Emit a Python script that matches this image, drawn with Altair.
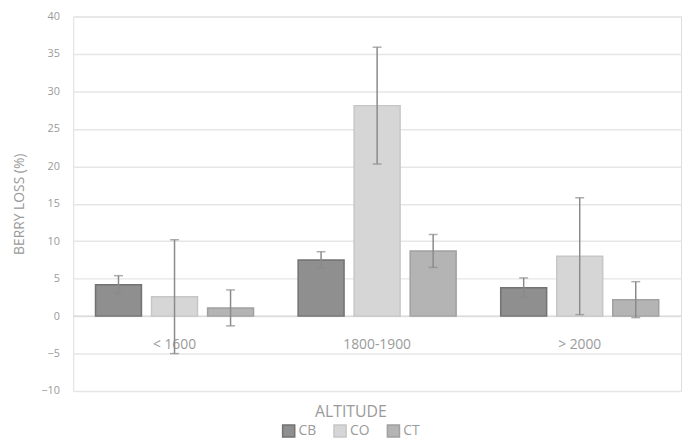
import altair as alt
import pandas as pd

altitudes = ["< 1600", "1800-1900", "> 2000"]
treatments = ["CB", "CO", "CT"]
# values per altitude, per treatment
cb_mean = [4.2, 7.5, 3.8]
co_mean = [2.6, 28.1, 8.0]
ct_mean = [1.1, 8.7, 2.2]
cb_err = [1.2, 1.1, 1.3]
co_err = [7.6, 7.8, 7.8]
ct_err = [2.4, 2.2, 2.4]
y_ticks = [-10, -5, 0, 5, 10, 15, 20, 25, 30, 35, 40]

rows = []
for i, a in enumerate(altitudes):
    for t, m, e in (("CB", cb_mean, cb_err), ("CO", co_mean, co_err), ("CT", ct_mean, ct_err)):
        rows.append({"alt": a, "trt": t, "val": m[i], "lo": m[i] - e[i], "hi": m[i] + e[i]})
df = pd.DataFrame(rows)

fills = ["#8f8f8f", "#d6d6d6", "#b4b4b4"]
strokes = ["#727272", "#c6c6c6", "#a0a0a0"]
txt = "#9a9a9a"

xenc = alt.X("alt:N", sort=altitudes, title=None,
             scale=alt.Scale(paddingInner=0.22, paddingOuter=0.11),
             axis=alt.Axis(offset=-66, domain=False, ticks=False, labelPadding=12,
                           labelFontSize=14, labelColor=txt, labelAngle=0, grid=False))
xoff = alt.XOffset("trt:N", sort=treatments, scale=alt.Scale(paddingInner=0.18))
yscale = alt.Scale(domain=[-10, 40], nice=False)
yaxis = alt.Axis(values=y_ticks, domain=False, ticks=False, labelOverlap=False,
                 labelColor=txt, labelFontSize=11, titleColor=txt,
                 titleFontSize=14, titleFontWeight="normal", labelPadding=14,
                 titlePadding=14, gridColor="#e6e6e6", gridWidth=1.5)

base = alt.Chart(df)
bars = base.mark_bar(strokeWidth=1.5).encode(
    x=xenc, xOffset=xoff,
    y=alt.Y("val:Q", scale=yscale, title="BERRY LOSS (%)", axis=yaxis),
    y2=alt.datum(0),
    fill=alt.Fill("trt:N", sort=treatments, scale=alt.Scale(domain=treatments, range=fills),
                  legend=alt.Legend(title="ALTITUDE", titleAnchor="middle", titleFontSize=16,
                                    titleFontWeight="normal", titleColor=txt, titlePadding=4,
                                    orient="none", direction="horizontal",
                                    legendX=211, legendY=392, symbolType="square",
                                    symbolSize=150, symbolStrokeWidth=1.5, labelFontSize=14,
                                    labelColor=txt, columnPadding=14, labelOffset=3)),
    stroke=alt.Stroke("trt:N", sort=treatments, scale=alt.Scale(domain=treatments, range=strokes),
                      legend=None),
)
rules = base.mark_rule(color="#8a8a8a", strokeWidth=1.5).encode(
    x=xenc, xOffset=xoff, y=alt.Y("lo:Q", scale=yscale, axis=yaxis, title="BERRY LOSS (%)"),
    y2="hi:Q")
caps_hi = base.mark_tick(color="#8a8a8a", size=9, thickness=1.5).encode(
    x=xenc, xOffset=xoff, y=alt.Y("hi:Q", scale=yscale, axis=yaxis, title="BERRY LOSS (%)"))
caps_lo = base.mark_tick(color="#8a8a8a", size=9, thickness=1.5).encode(
    x=xenc, xOffset=xoff, y=alt.Y("lo:Q", scale=yscale, axis=yaxis, title="BERRY LOSS (%)"))

zero = alt.Chart(pd.DataFrame({"z": [0]})).mark_rule(color="#d9d9d9", strokeWidth=1.5).encode(
    y=alt.Y("z:Q", scale=yscale, axis=yaxis, title="BERRY LOSS (%)"))

chart = alt.layer(zero, bars, rules, caps_hi, caps_lo).properties(
    width=615, height=379,
    padding={"left": 5, "top": 0, "right": 0, "bottom": 0},
).configure_view(stroke=None).configure(font="Open Sans")

chart.save("out.html", embed_options={"renderer": "svg", "actions": False})
